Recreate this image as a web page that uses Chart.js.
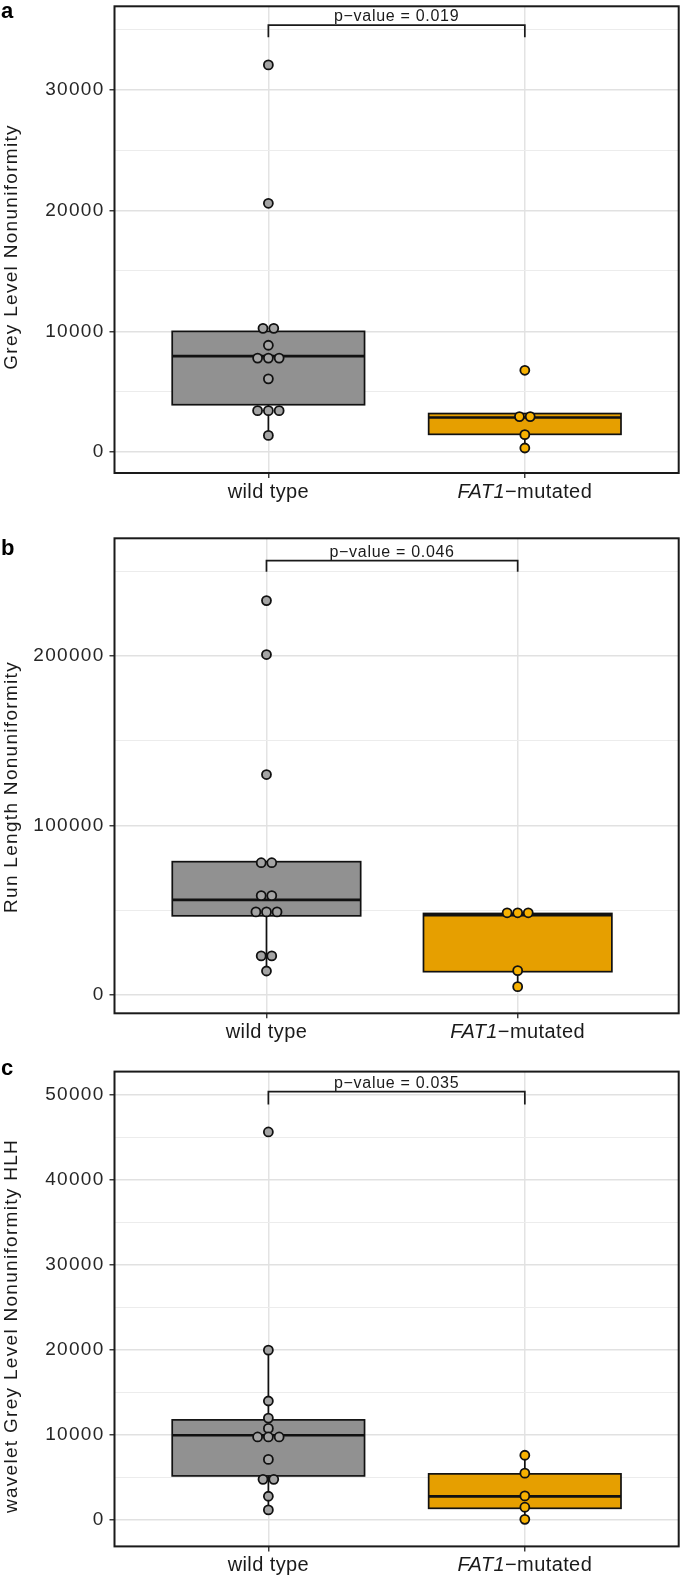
<!DOCTYPE html>
<html>
<head>
<meta charset="utf-8">
<script src="https://cdn.jsdelivr.net/npm/chart.js@4"></script>
<style>
  body { margin: 0; background: #fff; }
  #page { position: relative; width: 685px; height: 1579px; }
  canvas { position: absolute; left: 0; }
</style>
</head>
<body>
<div id="page">
  <canvas id="chartA" width="685" height="520" style="top:0"></canvas>
  <canvas id="chartB" width="685" height="540" style="top:520px"></canvas>
  <canvas id="chartC" width="685" height="539" style="top:1040px"></canvas>
</div>
<script>
// groups on the x axis
const groups = ['wild type', 'FAT1'];

// a: Grey Level Nonuniformity
const wildA = [32050, 20600, 10250, 10250, 8850, 7790, 7790, 7790, 6070, 3440, 3440, 3440, 1390];
const fatA = [6780, 2950, 2950, 1450, 350];
// box stats: [lower whisker, q1, median, q3, upper whisker]
const boxWildA = [1390, 3930, 7950, 10000, 10000];
const boxFatA = [350, 1480, 2870, 3200, 3200];
const ticksA = [0, 10000, 20000, 30000];
const minorA = [5000, 15000, 25000, 35000];
const bracketA = [35350, 34340];

// b: Run Length Nonuniformity
const wildB = [232900, 201000, 130100, 78000, 78000, 58500, 58500, 48900, 48900, 48900, 22900, 22900, 14000];
const fatB = [48400, 48400, 48400, 14200, 4750];
const boxWildB = [14000, 46600, 56000, 78600, 78600];
const boxFatB = [4750, 13600, 47000, 48000, 48000];
const ticksB = [0, 100000, 200000];
const minorB = [50000, 150000, 250000];
const bracketB = [256500, 250000];

// c: wavelet Grey Level Nonuniformity HLH
const wildC = [45660, 20000, 14020, 12010, 10800, 9790, 9790, 9790, 7150, 4810, 4810, 2820, 1210];
const fatC = [7640, 5530, 2860, 1530, 100];
const boxWildC = [1210, 5210, 9990, 11800, 20000];
const boxFatC = [100, 1400, 2800, 5450, 7640];
const ticksC = [0, 10000, 20000, 30000, 40000, 50000];
const minorC = [5000, 15000, 25000, 35000, 45000];
const bracketC = [50400, 48880];

const pValues = ['p\u2212value = 0.019', 'p\u2212value = 0.046', 'p\u2212value = 0.035'];
const yTitles = ['Grey Level Nonuniformity', 'Run Length Nonuniformity', 'wavelet Grey Level Nonuniformity HLH'];

const FONT = '"Liberation Sans", Arial, sans-serif';
Chart.defaults.font.family = FONT;

const dotStep = 0.042;

// stack equal values side by side, like a centred dotplot
function swarm(values, cx) {
    const counts = {};
    values.forEach(v => counts[v] = (counts[v] || 0) + 1);
    const seen = {};
    return values.map(v => {
        seen[v] = (seen[v] || 0) + 1;
        return { x: cx + (seen[v] - 1 - (counts[v] - 1) / 2) * dotStep, y: v };
    });
}

const panelPlugin = {
    id: 'panel',
    beforeDraw(chart) {
        chart.ctx.letterSpacing = '1.3px';
    },
    beforeDatasetsDraw(chart, args, o) {
        const { ctx, scales: { x, y } } = chart;
        o.boxes.forEach((b, i) => {
            const xc = x.getPixelForValue(i + 1);
            const xl = x.getPixelForValue(i + 1 - 0.375);
            const xr = x.getPixelForValue(i + 1 + 0.375);
            ctx.save();
            ctx.strokeStyle = '#111';
            ctx.lineWidth = 1.7;
            ctx.beginPath();
            ctx.moveTo(xc, y.getPixelForValue(b[0]));
            ctx.lineTo(xc, y.getPixelForValue(b[1]));
            ctx.moveTo(xc, y.getPixelForValue(b[3]));
            ctx.lineTo(xc, y.getPixelForValue(b[4]));
            ctx.stroke();
            const top = y.getPixelForValue(b[3]);
            const bot = y.getPixelForValue(b[1]);
            ctx.fillStyle = o.fills[i];
            ctx.fillRect(xl, top, xr - xl, bot - top);
            ctx.strokeRect(xl, top, xr - xl, bot - top);
            ctx.lineWidth = 2.6;
            ctx.beginPath();
            ctx.moveTo(xl, y.getPixelForValue(b[2]));
            ctx.lineTo(xr, y.getPixelForValue(b[2]));
            ctx.stroke();
            ctx.restore();
        });
    },
    afterDraw(chart, args, o) {
        const { ctx, chartArea: ca, scales: { x, y } } = chart;
        ctx.save();
        // panel frame
        ctx.strokeStyle = '#1a1a1a';
        ctx.lineWidth = 2;
        ctx.strokeRect(ca.left, ca.top, ca.right - ca.left, ca.bottom - ca.top);

        // significance bracket
        const x1 = x.getPixelForValue(1), x2 = x.getPixelForValue(2);
        const yb = y.getPixelForValue(o.bracket[0]), yt = y.getPixelForValue(o.bracket[1]);
        ctx.lineWidth = 1.7;
        ctx.beginPath();
        ctx.moveTo(x1, yt); ctx.lineTo(x1, yb); ctx.lineTo(x2, yb); ctx.lineTo(x2, yt);
        ctx.stroke();
        ctx.fillStyle = '#1a1a1a';
        ctx.textAlign = 'center';
        ctx.textBaseline = 'alphabetic';
        ctx.letterSpacing = '0.7px';
        ctx.font = '16px ' + FONT;
        ctx.fillText(o.pText, (x1 + x2) / 2, yb - 4);

        // x labels, FAT1 in italics
        const base = ca.bottom + 25;
        ctx.letterSpacing = '0.4px';
        ctx.font = '20px ' + FONT;
        ctx.fillText(groups[0], x1, base);
        ctx.font = 'italic 20px ' + FONT;
        const w1 = ctx.measureText(groups[1]).width;
        ctx.font = '20px ' + FONT;
        const w2 = ctx.measureText('\u2212mutated').width;
        ctx.textAlign = 'left';
        ctx.font = 'italic 20px ' + FONT;
        ctx.fillText(groups[1], x2 - (w1 + w2) / 2, base);
        ctx.font = '20px ' + FONT;
        ctx.fillText('\u2212mutated', x2 - (w1 + w2) / 2 + w1, base);

        // y title
        ctx.save();
        ctx.translate(12, o.titleY);
        ctx.rotate(-Math.PI / 2);
        ctx.textAlign = 'center';
        ctx.textBaseline = 'middle';
        ctx.letterSpacing = '1.3px';
        ctx.font = '19px ' + FONT;
        ctx.fillText(o.title, 0, 0);
        ctx.restore();

        // panel letter
        ctx.letterSpacing = '0px';
        ctx.textAlign = 'left';
        ctx.font = 'bold 22px ' + FONT;
        ctx.fillStyle = '#000';
        ctx.fillText(o.letter, 1, o.letterY);
        ctx.restore();
    }
};

function makePanel(id, p) {
    const isMajor = v => p.major.includes(v);
    return new Chart(document.getElementById(id), {
        type: 'scatter',
        data: {
            datasets: [{
                data: swarm(p.wild, 1),
                backgroundColor: '#a4a4a4',
                borderColor: '#111',
                borderWidth: 1.8,
                pointRadius: 4.5
            }, {
                data: swarm(p.fat, 2),
                backgroundColor: '#f7b100',
                borderColor: '#111',
                borderWidth: 1.8,
                pointRadius: 4.5
            }]
        },
        options: {
            responsive: false,
            animation: false,
            events: [],
            layout: { padding: { top: p.padTop, right: 685 - p.right, left: 0, bottom: 0 } },
            scales: {
                x: {
                    type: 'linear',
                    min: p.xMin,
                    max: p.xMax,
                    bounds: 'data',
                    afterBuildTicks: a => { a.ticks = [{ value: 1 }, { value: 2 }]; },
                    afterFit: a => { a.height = p.axisH; a.paddingLeft = 0; a.paddingRight = 0; },
                    ticks: { display: false },
                    grid: { color: '#e3e3e3', lineWidth: 1.5, tickColor: '#333', tickLength: 5, tickWidth: 1.4 },
                    border: { display: false }
                },
                y: {
                    min: p.yMin,
                    max: p.yMax,
                    bounds: 'data',
                    afterBuildTicks: a => {
                        a.ticks = p.major.concat(p.minor).sort((m, n) => m - n).map(v => ({ value: v }));
                    },
                    afterFit: a => { a.width = 114.5; a.paddingTop = 0; a.paddingBottom = 0; },
                    ticks: {
                        autoSkip: false,
                        padding: 5,
                        color: '#262626',
                        font: { size: 19 },
                        callback: v => isMajor(v) ? String(v) : ''
                    },
                    grid: {
                        color: c => isMajor(c.tick.value) ? '#e1e1e1' : '#ececec',
                        lineWidth: c => isMajor(c.tick.value) ? 1.5 : 1.1,
                        tickColor: c => isMajor(c.tick.value) ? '#333' : 'rgba(0,0,0,0)',
                        tickLength: 5,
                        tickWidth: 1.4
                    },
                    border: { display: false }
                }
            },
            plugins: {
                legend: { display: false },
                tooltip: { enabled: false },
                panel: {
                    boxes: [p.boxWild, p.boxFat],
                    fills: ['#919191', '#e69f00'],
                    bracket: p.bracket,
                    pText: p.pText,
                    title: p.title,
                    titleY: p.titleY,
                    letter: p.letter,
                    letterY: p.letterY
                }
            }
        },
        plugins: [panelPlugin]
    });
}

makePanel('chartA', {
    wild: wildA, fat: fatA, boxWild: boxWildA, boxFat: boxFatA,
    major: ticksA, minor: minorA, bracket: bracketA,
    yMin: -1720, yMax: 36900, xMin: 0.4, xMax: 2.6,
    padTop: 2, axisH: 47, right: 683,
    pText: pValues[0], title: yTitles[0], titleY: 247, letter: 'a', letterY: 18
});

makePanel('chartB', {
    wild: wildB, fat: fatB, boxWild: boxWildB, boxFat: boxFatB,
    major: ticksB, minor: minorB, bracket: bracketB,
    yMin: -11000, yMax: 269700, xMin: 0.395, xMax: 2.641,
    padTop: 18.3, axisH: 46.7, right: 682,
    pText: pValues[1], title: yTitles[1], titleY: 267, letter: 'b', letterY: 35
});

makePanel('chartC', {
    wild: wildC, fat: fatC, boxWild: boxWildC, boxFat: boxFatC,
    major: ticksC, minor: minorC, bracket: bracketC,
    yMin: -3080, yMax: 52760, xMin: 0.4, xMax: 2.6,
    padTop: 31.6, axisH: 32.6, right: 683,
    pText: pValues[2], title: yTitles[2], titleY: 286, letter: 'c', letterY: 35
});
</script>
</body>
</html>
